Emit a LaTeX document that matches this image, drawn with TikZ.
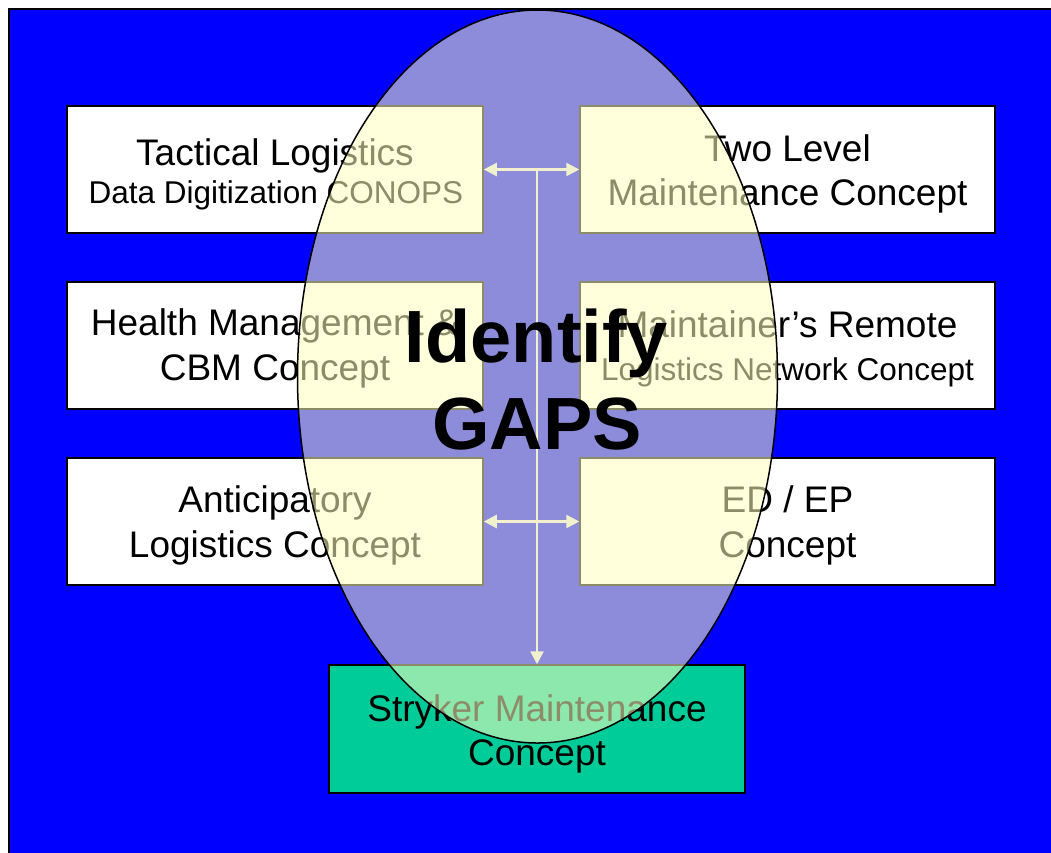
\documentclass[tikz,border=0pt]{standalone}
\usepackage{fontspec}
\setmainfont{Liberation Sans}
\usetikzlibrary{arrows.meta}
\definecolor{bgblue}{RGB}{0,0,255}
\definecolor{stgreen}{RGB}{0,204,153}
\definecolor{ovyellow}{RGB}{255,255,190}
\definecolor{arrgray}{RGB}{225,225,225}
\tikzset{
  box/.style={draw=black, line width=1.5pt, fill=white, minimum width=416pt, minimum height=127pt, inner sep=0pt},
  bigtxt/.style={anchor=base, inner sep=0pt, font=\fontsize{37}{44}\selectfont},
  smalltxt/.style={anchor=base, inner sep=0pt, font=\fontsize{31.5}{38}\selectfont},
  gapstxt/.style={anchor=base, inner sep=0pt, font=\bfseries\fontsize{74}{85}\selectfont},
  arr/.style={draw=arrgray, line width=2.5pt, arrows={-Triangle[length=13pt,width=13pt]}},
  darr/.style={draw=arrgray, line width=2.5pt, arrows={Triangle[length=13pt,width=13pt]-Triangle[length=13pt,width=13pt]}},
  overlay ellipse/.style={draw=black, line width=1.5pt, fill=ovyellow, fill opacity=0.55}
}
\begin{document}
\begin{tikzpicture}[x=1pt,y=-1pt]
\useasboundingbox (0,0) rectangle (1051,852);
\clip (0,0) rectangle (1051,852);
% background
\path[fill=bgblue, draw=black, line width=2pt] (9,9) rectangle (1080,880);
% boxes
\node[box] (tl) at (275,169.5) {};
\node[box, minimum width=415pt] (tr) at (787.5,169.5) {};
\node[box] (ml) at (275,345.5) {};
\node[box, minimum width=415pt] (mr) at (787.5,345.5) {};
\node[box] (bl) at (275,521.5) {};
\node[box, minimum width=415pt] (br) at (787.5,521.5) {};
\node[box, fill=stgreen, minimum height=128pt] (st) at (537,729) {};
% texts
\node[bigtxt] (t1a) at (275,165) {Tactical Logistics};
\node[smalltxt] (t1b) at (276,203) {Data Digitization CONOPS};
\node[bigtxt] (t2a) at (787.5,161) {Two Level};
\node[bigtxt] (t2b) at (787.5,205) {Maintenance Concept};
\node[bigtxt] (t3a) at (275,335) {Health Management \&};
\node[bigtxt] (t3b) at (275,380) {CBM Concept};
\node[bigtxt] (t4a) at (787.5,337) {Maintainer’s Remote};
\node[smalltxt] (t4b) at (787.5,380) {Logistics Network Concept};
\node[bigtxt] (t5a) at (275,512) {Anticipatory};
\node[bigtxt] (t5b) at (275,557) {Logistics Concept};
\node[bigtxt] (t6a) at (787.5,512) {ED / EP};
\node[bigtxt] (t6b) at (787.5,557) {Concept};
\node[bigtxt] (t7a) at (537,721) {Stryker Maintenance};
\node[bigtxt] (t7b) at (537,765) {Concept};
% connectors
\coordinate (vtop) at (537,169.5);
\draw[darr] (tl.east) -- (tr.west);
\draw[darr] (bl.east) -- (br.west);
\draw[arr] (vtop) -- (vtop |- st.north);
% overlay ellipse
\path[overlay ellipse] (537.5,376.5) ellipse [x radius=240, y radius=366.5];
\node[gapstxt] (id) at (536.5,362) {Identify};
\node[gapstxt] (gaps) at (537,449) {GAPS};
\end{tikzpicture}
\end{document}
